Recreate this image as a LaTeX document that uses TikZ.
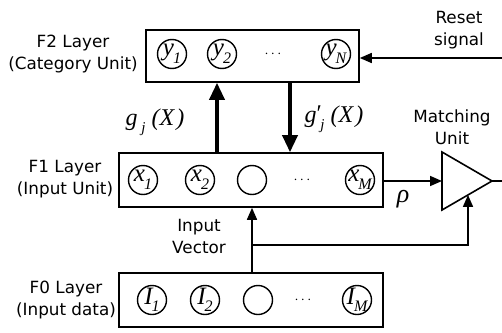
\documentclass[tikz,border=0pt]{standalone}
\usepackage{fontspec}
\newfontfamily\labelfont{DejaVu Sans}
\newfontfamily\varfont{Liberation Serif}
\usetikzlibrary{arrows.meta,calc}

% italic variable with a lowered subscript, e.g. y_1
\newcommand\unitvar[2]{{\varfont\itshape #1}\kern-1pt\raisebox{-0.3em}{\fontsize{16}{16}\selectfont\varfont\itshape #2}}
% weight function g_j(X); #1 is an optional prime
\newcommand\wfun[1]{{\varfont\itshape g}\rlap{\raisebox{0.05em}{\varfont #1}}\raisebox{-0.3em}{\fontsize{15}{15}\selectfont\varfont\itshape\ j}\hspace{6pt}{\varfont\itshape (X\kern2pt)}}

\tikzset{
  layer/.style={draw, line width=1.6pt, inner sep=0pt},
  unit/.style={circle, draw, line width=1.4pt, minimum size=29pt, inner sep=0pt},
  unitlabel/.style={font=\fontsize{25}{25}\selectfont, inner sep=0pt},
  dotslabel/.style={font=\fontsize{14}{14}\selectfont, inner sep=0pt},
  caption/.style={font=\labelfont\fontsize{16.8}{22}\selectfont, align=center, inner sep=0pt},
  mathlabel/.style={font=\fontsize{24}{24}\selectfont, inner sep=0pt},
  wire/.style={line width=1.6pt},
  thinarrow/.style={wire, -{Triangle[length=12pt,width=10pt]}},
  thickarrow/.style={line width=3.5pt, -{Triangle[length=17pt,width=15pt]}},
}

\begin{document}
\begin{tikzpicture}[x=1pt, y=-1pt]
\useasboundingbox (0,0) rectangle (502,332);

% ---- layer boxes ----
\node[layer, minimum width=213pt, minimum height=52pt] (F2) at (252.5,56) {};
\node[layer, minimum width=264pt, minimum height=54pt] (F1) at (251,180) {};
\node[layer, minimum width=264pt, minimum height=54pt] (F0) at (251,300) {};

% ---- F2 units ----
\node[unit, label={[unitlabel]center:\unitvar{y}{1}}] (y1) at (172,54) {};
\node[unit, label={[unitlabel]center:\unitvar{y}{2}}] (y2) at (222,54) {};
\node[dotslabel] (ydots) at (273,54) {$\cdots$};
\node[unit, label={[unitlabel]center:\unitvar{y}{N}}] (yN) at (336,54) {};

% ---- F1 units ----
\node[unit, label={[unitlabel]center:\unitvar{x}{1}}] (x1) at (143,180) {};
\node[unit, label={[unitlabel]center:\unitvar{x}{2}}] (x2) at (200,180) {};
\node[unit] (x3) at (252,180) {};
\node[dotslabel] (xdots) at (302,180) {$\cdots$};
\node[unit, label={[unitlabel]center:\unitvar{x}{M}}] (xM) at (360,180) {};

% ---- F0 units ----
\node[unit, label={[unitlabel]center:\unitvar{I}{1}}] (I1) at (152,300) {};
\node[unit, label={[unitlabel]center:\unitvar{I}{2}}] (I2) at (205,300) {};
\node[unit] (I3) at (258,300) {};
\node[dotslabel] (Idots) at (303,300) {$\cdots$};
\node[unit, label={[unitlabel]center:\unitvar{I}{M}}] (IM) at (357,300) {};

% ---- layer captions ----
\node[caption] (capF2) at (73,54) {F2 Layer\\(Category Unit)};
\node[caption] (capF1) at (65,179) {F1 Layer\\(Input Unit)};
\node[caption] (capF0) at (66,300) {F0 Layer\\(Input data)};
\node[caption] (capReset) at (459,30) {Reset\\signal};
\node[caption] (capMatch) at (452,127) {Matching\\Unit};
\node[caption] (capInput) at (199,236) {Input\\Vector};

% ---- matching unit (comparator triangle) ----
\coordinate (mA) at (442,152);
\coordinate (mB) at (442,210);
\coordinate (mC) at (492,181);
\draw[wire, line join=miter] (mA) -- (mC) -- (mB) -- cycle;
\coordinate (mIn) at ($(mA)!0.5!(mB)$);
\coordinate (mFb) at ($(mB)!0.52!(mC)$);

% ---- bottom-up / top-down weights ----
\coordinate (gUp) at (217,0);
\coordinate (gDown) at (290,0);
\draw[thickarrow] (F1.north -| gUp) -- (F2.south -| gUp);
\draw[thickarrow] (F2.south -| gDown) -- (F1.north -| gDown);
\node[mathlabel] (gj) at (155,122) {\wfun{}};
\node[mathlabel] (gpj) at (334,119) {\wfun{′}};

% ---- reset signal ----
\coordinate (rs) at (502,58);
\draw[thinarrow] (rs) -- (F2.east |- rs);

% ---- vigilance path ----
\draw[thinarrow] (F1.east |- mIn) -- (mIn);
\node[font=\fontsize{26}{26}\selectfont\varfont\itshape, inner sep=0pt] (rho) at (403,199) {ρ};
\coordinate (out) at (502,181);
\draw[wire] (mC) -- (out);

% ---- input vector ----
\draw[thinarrow] (F0.north -| x3) -- (F1.south -| x3);
\coordinate (jn) at (252,245);
\draw[thinarrow] (jn) -| (mFb);
\end{tikzpicture}
\end{document}
